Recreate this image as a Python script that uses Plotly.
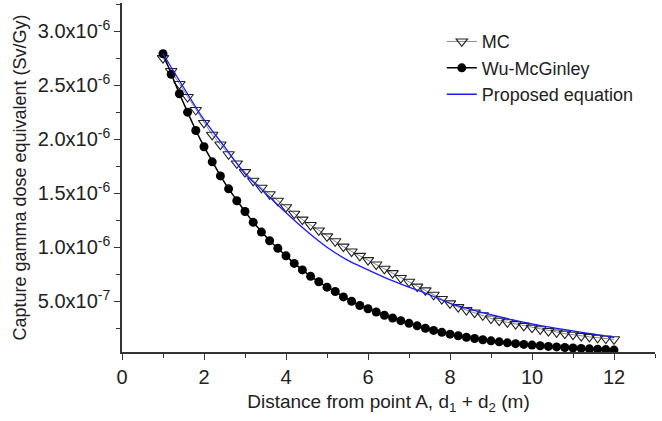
import plotly.graph_objects as go

# Distances (m), step 0.2 from 1 to 12
distance = [round(1.0 + 0.2 * i, 1) for i in range(56)]

# MC (x1e-6 Sv/Gy)
mc = [2.75, 2.63, 2.51, 2.39, 2.27, 2.15, 2.04, 1.95, 1.86, 1.775,
      1.695, 1.615, 1.55, 1.49, 1.43, 1.37, 1.31, 1.255, 1.205, 1.155,
      1.10, 1.055, 1.005, 0.96, 0.92, 0.88, 0.84, 0.80, 0.76, 0.715,
      0.68, 0.635, 0.60, 0.56, 0.52, 0.48, 0.445, 0.418, 0.395, 0.37,
      0.34, 0.32, 0.305, 0.288, 0.272, 0.256, 0.24, 0.224, 0.211, 0.20,
      0.19, 0.178, 0.17, 0.162, 0.155, 0.148]

# Wu-McGinley (x1e-6 Sv/Gy)
wu = [2.79, 2.60, 2.42, 2.25, 2.08, 1.93, 1.79, 1.66, 1.54, 1.43,
      1.33, 1.23, 1.14, 1.06, 0.99, 0.92, 0.85, 0.79, 0.73, 0.68,
      0.63, 0.59, 0.54, 0.50, 0.46, 0.43, 0.40, 0.37, 0.345, 0.32,
      0.295, 0.272, 0.25, 0.23, 0.212, 0.195, 0.18, 0.167, 0.155, 0.143,
      0.133, 0.124, 0.115, 0.107, 0.10, 0.094, 0.088, 0.082, 0.077, 0.072,
      0.067, 0.063, 0.059, 0.055, 0.052, 0.048]

# Proposed equation (x1e-6 Sv/Gy)
prop_x = [1.0, 1.5, 2.0, 2.5, 3.0, 3.5, 4.0, 4.5, 5.0, 5.5, 6.0, 6.5,
          7.0, 7.5, 8.0, 8.5, 9.0, 9.5, 10.0, 10.5, 11.0, 11.5, 12.0]
prop_y = [2.79, 2.48, 2.18, 1.93, 1.68, 1.50, 1.32, 1.15, 1.00, 0.88, 0.79, 0.705,
          0.63, 0.56, 0.48, 0.425, 0.375, 0.33, 0.29, 0.255, 0.225, 0.195, 0.165]

y_tickvals = [0.5e-6, 1.0e-6, 1.5e-6, 2.0e-6, 2.5e-6, 3.0e-6]
y_ticktext = ["5.0x10<sup>-7</sup>", "1.0x10<sup>-6</sup>", "1.5x10<sup>-6</sup>",
              "2.0x10<sup>-6</sup>", "2.5x10<sup>-6</sup>", "3.0x10<sup>-6</sup>"]

scale = 1e-6
FONT = "Liberation Sans, Arial, sans-serif"

fig = go.Figure()
fig.add_trace(go.Scatter(
    x=distance, y=[v * scale for v in mc], name="MC", mode="lines+markers",
    line=dict(color="#8a8a8a", width=1),
    marker=dict(symbol="triangle-down-open", size=10, color="#222222",
                line=dict(width=1.1, color="#222222"))))
fig.add_trace(go.Scatter(
    x=distance, y=[v * scale for v in wu], name="Wu-McGinley", mode="lines+markers",
    line=dict(color="black", width=1.5),
    marker=dict(symbol="circle", size=9, color="black")))
fig.add_trace(go.Scatter(
    x=prop_x, y=[v * scale for v in prop_y], name="Proposed equation", mode="lines",
    line=dict(color="#1a1aff", width=1.3, shape="spline")))

fig.update_layout(
    width=662, height=421,
    margin=dict(l=122, r=7, t=3, b=69),
    paper_bgcolor="white", plot_bgcolor="white",
    font=dict(family=FONT, size=19, color="#222"),
    showlegend=True,
    legend=dict(x=0.60, y=0.942, xanchor="left", yanchor="top",
                bgcolor="rgba(0,0,0,0)", font=dict(size=18),
                tracegroupgap=0, itemsizing="trace"),
    xaxis=dict(range=[0, 13], tickvals=[0, 2, 4, 6, 8, 10, 12], automargin=False,
               ticks="outside", ticklen=6, tickwidth=1.2, tickcolor="#333",
               minor=dict(dtick=1, tick0=0, ticks="outside", ticklen=4, tickcolor="#333"),
               showline=True, linecolor="#333", linewidth=1.5, showgrid=False,
               zeroline=False, tickfont=dict(size=20),
               title=dict(text="Distance from point A, d<sub>1</sub> + d<sub>2</sub> (m)",
                          font=dict(size=19), standoff=8)),
    yaxis=dict(range=[0.03e-6, 3.26e-6], tickvals=y_tickvals, ticktext=y_ticktext,
               automargin=False,
               ticks="outside", ticklen=6, tickwidth=1.2, tickcolor="#333",
               minor=dict(tickvals=[0.25e-6, 0.75e-6, 1.25e-6, 1.75e-6, 2.25e-6, 2.75e-6, 3.25e-6],
                          ticks="outside", ticklen=4, tickcolor="#333"),
               showline=True, linecolor="#333", linewidth=1.5, showgrid=False,
               zeroline=False, tickfont=dict(size=20),
               title=dict(text="Capture gamma dose equivalent (Sv/Gy)",
                          font=dict(size=18), standoff=6)),
)

fig.write_html("out.html", config={"displayModeBar": False},
               post_script="document.body.style.margin='0px';document.body.style.overflow='hidden';")
